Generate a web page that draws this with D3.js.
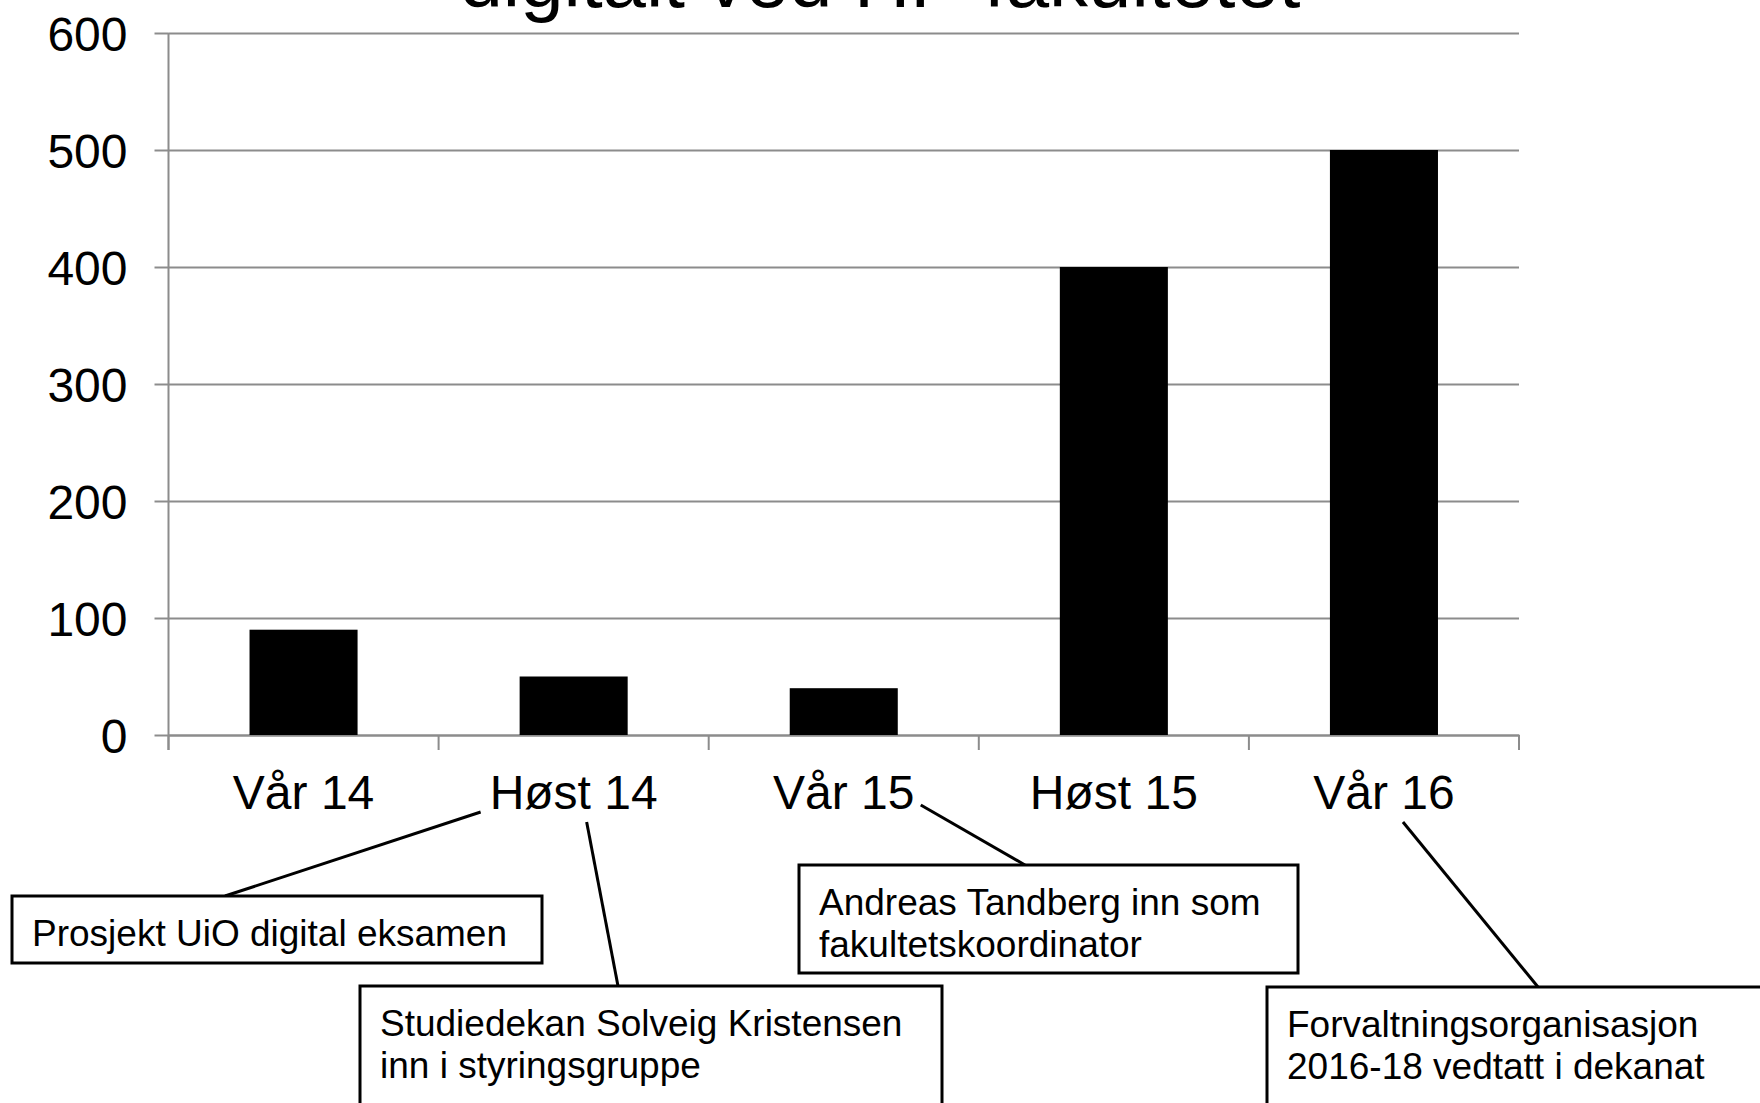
<!DOCTYPE html>
<html>
  <head>
    <script src="https://cdnjs.cloudflare.com/ajax/libs/d3/7.8.5/d3.min.js"></script>
    <style>
      body { margin: 0; background: #fff; }
      svg { display: block; font-family: "Liberation Sans", Arial, sans-serif; }
      .grid line { stroke: #8c8c8c; stroke-width: 2; }
      .grid path { display: none; }
      .axis path, .axis line { stroke: #8c8c8c; stroke-width: 2; }
      .axis text { fill: #000; font-size: 48px; }
      rect.bar { fill: #000; }
      rect.note { fill: #fff; stroke: #000; stroke-width: 3; }
      line.leader { stroke: #000; stroke-width: 3; }
      text.note { font-size: 37px; fill: #000; }
    </style>
  </head>
  <body>
    <svg width="1760" height="1103"></svg>
    <script>
      // data
      var categories = ["Vår 14", "Høst 14", "Vår 15", "Høst 15", "Vår 16"];
      var values = [90, 50, 40, 400, 500];
      var yTicks = [0, 100, 200, 300, 400, 500, 600];

      // callout boxes: text lines and which label they point at
      var noteLines = [
        ["Prosjekt UiO digital eksamen"],
        ["Studiedekan Solveig Kristensen", "inn i styringsgruppe"],
        ["Andreas Tandberg inn som", "fakultetskoordinator"],
        ["Forvaltningsorganisasjon", "2016-18 vedtatt i dekanat"]
      ];
      var noteTarget = ["Høst 14", "Høst 14", "Vår 15", "Vår 16"];

      var svg = d3.select("svg");
      var plotLeft = 168.5, plotRight = 1519, plotTop = 33, plotBottom = 735;

      var x = d3.scaleBand().domain(categories).range([plotLeft, plotRight])
        .paddingInner(0.6).paddingOuter(0.3);
      var y = d3.scaleLinear().domain([0, 600]).range([plotBottom, plotTop]);

      // title, mostly above the visible area
      svg.append("text")
        .attr("x", 880).attr("y", 7)
        .attr("text-anchor", "middle")
        .style("font-size", "78px")
        .text("digitalt ved HF-fakultetet");

      // gridlines
      svg.append("g").attr("class", "grid")
        .attr("transform", "translate(" + plotLeft + ",0)")
        .call(d3.axisLeft(y).tickValues(yTicks).tickSize(-(plotRight - plotLeft)).tickFormat(""));

      // y axis
      var yAxis = svg.append("g").attr("class", "axis")
        .attr("transform", "translate(" + plotLeft + ",0)")
        .call(d3.axisLeft(y).tickValues(yTicks).tickSizeInner(14).tickSizeOuter(0).tickPadding(27));
      yAxis.select("path").remove();
      yAxis.selectAll("text").attr("dy", "0.36em");
      svg.append("line")
        .attr("x1", plotLeft).attr("x2", plotLeft)
        .attr("y1", plotTop).attr("y2", plotBottom + 15)
        .attr("stroke", "#8c8c8c").attr("stroke-width", 2);

      // x axis
      var xAxis = svg.append("g").attr("class", "axis")
        .attr("transform", "translate(0," + plotBottom + ")")
        .call(d3.axisBottom(x).tickSize(0).tickSizeOuter(0));
      xAxis.selectAll("text").attr("y", 74).attr("dy", 0);
      xAxis.selectAll(".tick line").remove();
      // category boundary ticks
      var bounds = d3.range(categories.length + 1).map(function (i) { return plotLeft + i * x.step(); });
      xAxis.selectAll("line.sep").data(bounds).enter().append("line")
        .attr("class", "sep")
        .attr("x1", function (d) { return d; }).attr("x2", function (d) { return d; })
        .attr("y1", 0).attr("y2", 15);

      // bars
      svg.selectAll("rect.bar").data(values).enter().append("rect")
        .attr("class", "bar")
        .attr("x", function (d, i) { return x(categories[i]); })
        .attr("width", x.bandwidth())
        .attr("y", function (d) { return y(d); })
        .attr("height", function (d) { return y(0) - y(d); });

      // callouts: box position, leader end offset from label centre
      var boxes = [
        { x: 12, y: 896, w: 530, h: 67, from: [225, 896], to: [-93, 812] },
        { x: 360, y: 986, w: 582, h: 140, from: [618, 986], to: [13, 822] },
        { x: 799, y: 865, w: 499, h: 108, from: [1025, 865], to: [77, 805] },
        { x: 1267, y: 987, w: 520, h: 140, from: [1538, 987], to: [19, 822] }
      ];

      noteLines.forEach(function (lines, i) {
        var b = boxes[i];
        var cx = x(noteTarget[i]) + x.bandwidth() / 2;
        svg.append("line").attr("class", "leader")
          .attr("x1", b.from[0]).attr("y1", b.from[1])
          .attr("x2", cx + b.to[0]).attr("y2", b.to[1]);
        svg.append("rect").attr("class", "note")
          .attr("x", b.x).attr("y", b.y).attr("width", b.w).attr("height", b.h);
        lines.forEach(function (t, j) {
          svg.append("text").attr("class", "note")
            .attr("x", b.x + 20).attr("y", b.y + 50 + j * 42)
            .text(t);
        });
      });
    </script>
  </body>
</html>
